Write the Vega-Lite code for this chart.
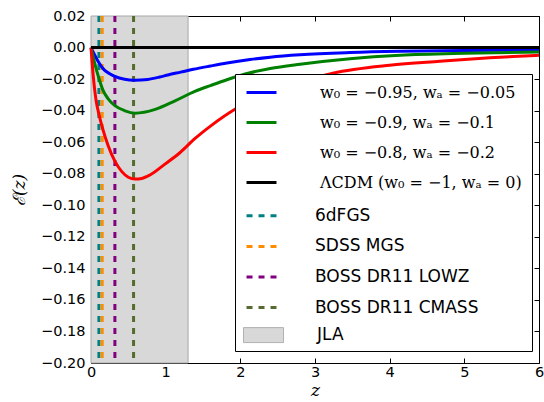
{
  "$schema": "https://vega.github.io/schema/vega-lite/v6.json",
  "width": 448,
  "height": 347,
  "autosize": {"type": "none"},
  "padding": {"left": 91, "top": 16, "right": 5, "bottom": 39},
  "background": "white",
  "config": {
    "view": {"stroke": "#000000", "strokeWidth": 1},
    "axis": {
      "domain": false,
      "grid": false,
      "labelFlush": false,
      "tickColor": "#000000",
      "tickWidth": 1,
      "tickSize": -5,
      "labelFont": "DejaVu Sans",
      "labelFontSize": 14.5,
      "labelColor": "#000000",
      "titleColor": "#000000",
      "titleFont": "DejaVu Serif",
      "titleFontSize": 17,
      "titleFontStyle": "italic",
      "titleFontWeight": "normal"
    },
    "legend": {
      "orient": "none",
      "title": null,
      "padding": 10,
      "cornerRadius": 0,
      "symbolSize": 196,
      "symbolStrokeWidth": 3,
      "symbolOffset": 8,
      "labelFontSize": 17,
      "labelFont": "DejaVu Sans",
      "labelColor": "#000000",
      "labelLimit": 400,
      "rowPadding": 12.6
    }
  },
  "datasets": {
    "span": [
      {"z0": 0, "z1": 1.3, "series": "JLA"}
    ],
    "surveys": [
      {"z": 0.106, "series": "6dFGS"},
      {"z": 0.15, "series": "SDSS MGS"},
      {"z": 0.32, "series": "BOSS DR11 LOWZ"},
      {"z": 0.57, "series": "BOSS DR11 CMASS"}
    ],
    "curves": [
      {"z": 0, "E": 0, "series": "w₀ = −0.95, wₐ = −0.05"},
      {"z": 0.05, "E": -0.0048, "series": "w₀ = −0.95, wₐ = −0.05"},
      {"z": 0.1, "E": -0.0092, "series": "w₀ = −0.95, wₐ = −0.05"},
      {"z": 0.18, "E": -0.0143, "series": "w₀ = −0.95, wₐ = −0.05"},
      {"z": 0.25, "E": -0.0166, "series": "w₀ = −0.95, wₐ = −0.05"},
      {"z": 0.32, "E": -0.0183, "series": "w₀ = −0.95, wₐ = −0.05"},
      {"z": 0.45, "E": -0.0201, "series": "w₀ = −0.95, wₐ = −0.05"},
      {"z": 0.58, "E": -0.0207, "series": "w₀ = −0.95, wₐ = −0.05"},
      {"z": 0.76, "E": -0.0202, "series": "w₀ = −0.95, wₐ = −0.05"},
      {"z": 0.92, "E": -0.0187, "series": "w₀ = −0.95, wₐ = −0.05"},
      {"z": 1.03, "E": -0.0174, "series": "w₀ = −0.95, wₐ = −0.05"},
      {"z": 1.2, "E": -0.0156, "series": "w₀ = −0.95, wₐ = −0.05"},
      {"z": 1.37, "E": -0.0138, "series": "w₀ = −0.95, wₐ = −0.05"},
      {"z": 1.6, "E": -0.0117, "series": "w₀ = −0.95, wₐ = −0.05"},
      {"z": 1.82, "E": -0.0098, "series": "w₀ = −0.95, wₐ = −0.05"},
      {"z": 2.13, "E": -0.0076, "series": "w₀ = −0.95, wₐ = −0.05"},
      {"z": 2.4, "E": -0.0061, "series": "w₀ = −0.95, wₐ = −0.05"},
      {"z": 2.8, "E": -0.0046, "series": "w₀ = −0.95, wₐ = −0.05"},
      {"z": 3.47, "E": -0.0032, "series": "w₀ = −0.95, wₐ = −0.05"},
      {"z": 4.14, "E": -0.0024, "series": "w₀ = −0.95, wₐ = −0.05"},
      {"z": 5, "E": -0.0019, "series": "w₀ = −0.95, wₐ = −0.05"},
      {"z": 6, "E": -0.0017, "series": "w₀ = −0.95, wₐ = −0.05"},

      {"z": 0, "E": 0, "series": "w₀ = −0.9, wₐ = −0.1"},
      {"z": 0.05, "E": -0.0100, "series": "w₀ = −0.9, wₐ = −0.1"},
      {"z": 0.1, "E": -0.0185, "series": "w₀ = −0.9, wₐ = −0.1"},
      {"z": 0.16, "E": -0.0270, "series": "w₀ = −0.9, wₐ = −0.1"},
      {"z": 0.23, "E": -0.0325, "series": "w₀ = −0.9, wₐ = −0.1"},
      {"z": 0.32, "E": -0.0368, "series": "w₀ = −0.9, wₐ = −0.1"},
      {"z": 0.455, "E": -0.0401, "series": "w₀ = −0.9, wₐ = −0.1"},
      {"z": 0.59, "E": -0.0416, "series": "w₀ = −0.9, wₐ = −0.1"},
      {"z": 0.86, "E": -0.0392, "series": "w₀ = −0.9, wₐ = −0.1"},
      {"z": 1.125, "E": -0.0338, "series": "w₀ = −0.9, wₐ = −0.1"},
      {"z": 1.39, "E": -0.0278, "series": "w₀ = −0.9, wₐ = −0.1"},
      {"z": 1.6, "E": -0.0241, "series": "w₀ = −0.9, wₐ = −0.1"},
      {"z": 1.82, "E": -0.0204, "series": "w₀ = −0.9, wₐ = −0.1"},
      {"z": 2.13, "E": -0.0160, "series": "w₀ = −0.9, wₐ = −0.1"},
      {"z": 2.4, "E": -0.0133, "series": "w₀ = −0.9, wₐ = −0.1"},
      {"z": 2.8, "E": -0.0106, "series": "w₀ = −0.9, wₐ = −0.1"},
      {"z": 3.47, "E": -0.0071, "series": "w₀ = −0.9, wₐ = −0.1"},
      {"z": 4.14, "E": -0.0049, "series": "w₀ = −0.9, wₐ = −0.1"},
      {"z": 5, "E": -0.0036, "series": "w₀ = −0.9, wₐ = −0.1"},
      {"z": 6, "E": -0.0028, "series": "w₀ = −0.9, wₐ = −0.1"},

      {"z": 0, "E": 0, "series": "w₀ = −0.8, wₐ = −0.2"},
      {"z": 0.03, "E": -0.0180, "series": "w₀ = −0.8, wₐ = −0.2"},
      {"z": 0.05, "E": -0.0270, "series": "w₀ = −0.8, wₐ = −0.2"},
      {"z": 0.07, "E": -0.0340, "series": "w₀ = −0.8, wₐ = −0.2"},
      {"z": 0.1, "E": -0.0410, "series": "w₀ = −0.8, wₐ = −0.2"},
      {"z": 0.16, "E": -0.0520, "series": "w₀ = −0.8, wₐ = −0.2"},
      {"z": 0.23, "E": -0.0622, "series": "w₀ = −0.8, wₐ = −0.2"},
      {"z": 0.32, "E": -0.0720, "series": "w₀ = −0.8, wₐ = −0.2"},
      {"z": 0.41, "E": -0.0785, "series": "w₀ = −0.8, wₐ = −0.2"},
      {"z": 0.5, "E": -0.0822, "series": "w₀ = −0.8, wₐ = −0.2"},
      {"z": 0.59, "E": -0.0834, "series": "w₀ = −0.8, wₐ = −0.2"},
      {"z": 0.68, "E": -0.0830, "series": "w₀ = −0.8, wₐ = −0.2"},
      {"z": 0.79, "E": -0.0808, "series": "w₀ = −0.8, wₐ = −0.2"},
      {"z": 0.99, "E": -0.0739, "series": "w₀ = −0.8, wₐ = −0.2"},
      {"z": 1.19, "E": -0.0667, "series": "w₀ = −0.8, wₐ = −0.2"},
      {"z": 1.39, "E": -0.0578, "series": "w₀ = −0.8, wₐ = −0.2"},
      {"z": 1.6, "E": -0.0498, "series": "w₀ = −0.8, wₐ = −0.2"},
      {"z": 1.95, "E": -0.0385, "series": "w₀ = −0.8, wₐ = −0.2"},
      {"z": 2.5, "E": -0.0268, "series": "w₀ = −0.8, wₐ = −0.2"},
      {"z": 3.24, "E": -0.0162, "series": "w₀ = −0.8, wₐ = −0.2"},
      {"z": 4.0, "E": -0.0112, "series": "w₀ = −0.8, wₐ = −0.2"},
      {"z": 4.67, "E": -0.0087, "series": "w₀ = −0.8, wₐ = −0.2"},
      {"z": 5.34, "E": -0.0065, "series": "w₀ = −0.8, wₐ = −0.2"},
      {"z": 6, "E": -0.0049, "series": "w₀ = −0.8, wₐ = −0.2"}
    ],
    "lcdm": [
      {"z": 0, "E": 0, "series": "ΛCDM (w₀ = −1, wₐ = 0)"},
      {"z": 6, "E": 0, "series": "ΛCDM (w₀ = −1, wₐ = 0)"}
    ]
  },
  "layer": [
    {
      "data": {"name": "span"},
      "mark": {"type": "rect", "stroke": "#a8a8a8", "strokeWidth": 1},
      "encoding": {
        "x": {
          "field": "z0",
          "type": "quantitative",
          "scale": {"domain": [0, 6], "nice": false, "zero": false},
          "axis": {"orient": "bottom", "values": [0, 1, 2, 3, 4, 5, 6], "format": "d", "title": "z", "labelPadding": 7, "titlePadding": 4}
        },
        "x2": {"field": "z1"},
        "fill": {
          "field": "series",
          "type": "nominal",
          "scale": {"domain": ["JLA"], "range": ["#d8d8d8"]},
          "legend": {
            "legendX": 144,
            "legendY": 300.6,
            "zindex": 3,
            "symbolType": "M-2.86,-1.07H2.86V1.07H-2.86Z",
            "symbolStrokeColor": "#b0b0b0",
            "symbolStrokeWidth": 1,
            "symbolOpacity": 1,
            "symbolOffset": 10,
            "labelOffset": 45
          }
        }
      }
    },
    {
      "data": {"name": "surveys"},
      "mark": {"type": "rule", "strokeWidth": 3, "strokeDash": [6, 6]},
      "encoding": {
        "x": {"field": "z", "type": "quantitative", "axis": null},
        "stroke": {
          "field": "series",
          "type": "nominal",
          "scale": {
            "domain": ["6dFGS", "SDSS MGS", "BOSS DR11 LOWZ", "BOSS DR11 CMASS"],
            "range": ["#008080", "#ff8c00", "#800080", "#556b2f"]
          },
          "legend": {
            "legendX": 144,
            "legendY": 181.3,
            "zindex": 2,
            "symbolType": "M-2.14,0H2.14",
            "symbolDash": [6, 6],
            "labelOffset": 45
          }
        }
      }
    },
    {
      "data": {"name": "curves"},
      "mark": {"type": "line", "strokeWidth": 3, "interpolate": "monotone"},
      "encoding": {
        "x": {"field": "z", "type": "quantitative", "axis": null},
        "y": {
          "field": "E",
          "type": "quantitative",
          "scale": {"domain": [-0.2, 0.02], "nice": false, "zero": false},
          "axis": {"orient": "left", "values": [-0.2, -0.18, -0.16, -0.14, -0.12, -0.1, -0.08, -0.06, -0.04, -0.02, 0, 0.02], "format": ".2f", "title": "ℰ(z)", "labelPadding": 11, "titlePadding": 12}
        },
        "color": {
          "field": "series",
          "type": "nominal",
          "scale": {
            "domain": ["w₀ = −0.95, wₐ = −0.05", "w₀ = −0.9, wₐ = −0.1", "w₀ = −0.8, wₐ = −0.2", "ΛCDM (w₀ = −1, wₐ = 0)", "6dFGS", "SDSS MGS", "BOSS DR11 LOWZ", "BOSS DR11 CMASS", "JLA"],
            "range": ["#0000ff", "#008000", "#ff0000", "#000000", "transparent", "transparent", "transparent", "transparent", "transparent"]
          },
          "legend": {
            "legendX": 144,
            "legendY": 58,
            "zindex": 1,
            "fillColor": "#ffffff",
            "strokeColor": "#000000",
            "symbolType": "M-2.14,0H2.14",
            "labelFont": "DejaVu Serif",
            "labelFontSize": 16,
            "labelOffset": 50,
            "rowPadding": 13,
            "labelExpr": "indexof(['6dFGS', 'SDSS MGS', 'BOSS DR11 LOWZ', 'BOSS DR11 CMASS', 'JLA'], datum.value) >= 0 ? ' ' : datum.label"
          }
        }
      }
    },
    {
      "data": {"name": "lcdm"},
      "mark": {"type": "line", "strokeWidth": 3},
      "encoding": {
        "x": {
          "field": "z",
          "type": "quantitative",
          "axis": {"orient": "top", "values": [0, 1, 2, 3, 4, 5, 6], "labels": false, "title": null}
        },
        "y": {
          "field": "E",
          "type": "quantitative",
          "axis": {"orient": "right", "values": [-0.2, -0.18, -0.16, -0.14, -0.12, -0.1, -0.08, -0.06, -0.04, -0.02, 0, 0.02], "labels": false, "title": null}
        },
        "color": {"field": "series", "type": "nominal"}
      }
    }
  ],
  "resolve": {"axis": {"x": "independent", "y": "independent"}}
}
